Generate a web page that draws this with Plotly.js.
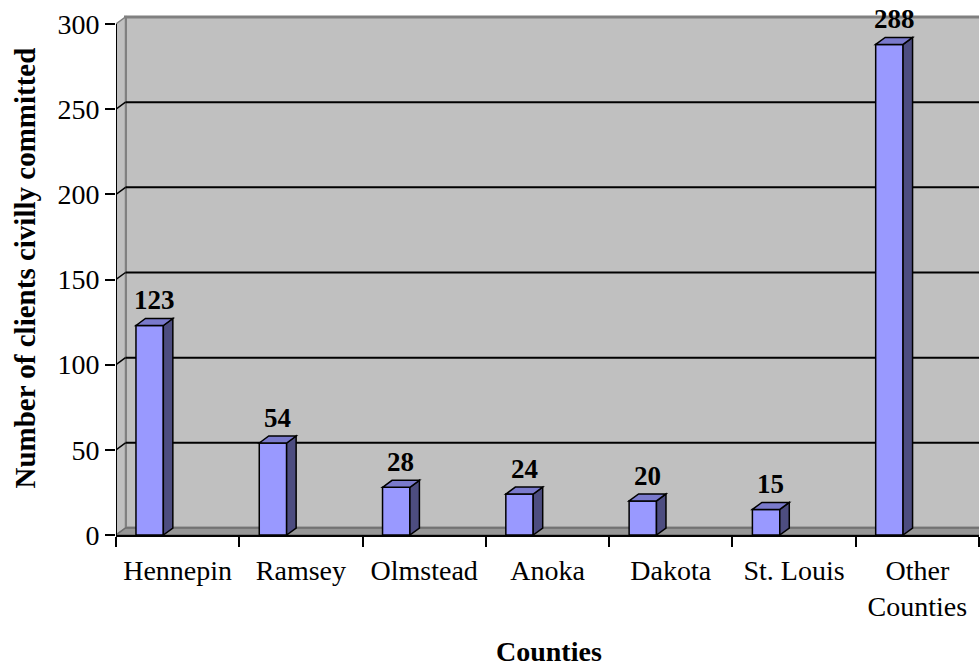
<!DOCTYPE html>
<html>
<head>
<meta charset="utf-8">
<script src="https://cdn.plot.ly/plotly-3.0.1.min.js"></script>
<style>
html,body{margin:0;padding:0;background:#fff;}
#chart{width:980px;height:669px;}
</style>
</head>
<body>
<div id="chart"></div>
<script>
// ---- data ----
const categories = ["Hennepin", "Ramsey", "Olmstead", "Anoka", "Dakota", "St. Louis", "Other<br>Counties"];
const clients = [123, 54, 28, 24, 20, 15, 288];
const yTicks = [0, 50, 100, 150, 200, 250, 300];

// ---- geometry (in axis units) ----
const pxPerX = 863 / 7;            // x axis: 7 categories over 863 px
const pxPerY = 511 / 300;          // y axis: 300 units over 511 px
const dx = 9.5 / pxPerX;           // 3-D depth offset, horizontal
const dy = 7 / pxPerY;             // 3-D depth offset, vertical
const barLeft = 0.162, barW = 0.222;
const yTop = 525 / pxPerY;

const idx = categories.map((c, i) => i);
const centers = idx.map(i => i + barLeft + barW / 2);

const serif = "Liberation Serif, Times New Roman, serif";

const shapes = [];
// back wall
shapes.push({type: 'rect', xref: 'x', yref: 'y', x0: dx, x1: 7 + dx + 0.2, y0: dy, y1: 300 + dy,
  fillcolor: '#c0c0c0', line: {color: '#808080', width: 3}, layer: 'below'});
// left wall
shapes.push({type: 'path', xref: 'x', yref: 'y',
  path: `M0,0 L0,300 L${dx},${300 + dy} L${dx},${dy} Z`,
  fillcolor: '#c0c0c0', line: {color: '#808080', width: 1.5}, layer: 'below'});
// floor
shapes.push({type: 'path', xref: 'x', yref: 'y',
  path: `M0,0 L7,0 L${7 + dx},${dy} L${dx},${dy} Z`,
  fillcolor: '#969696', line: {color: '#6e6e6e', width: 1.5}, layer: 'below'});
// gridlines on back + left wall
yTicks.filter(v => v > 0 && v < 300).forEach(v => {
  shapes.push({type: 'line', xref: 'x', yref: 'y', x0: dx, x1: 7 + dx + 0.2, y0: v + dy, y1: v + dy,
    line: {color: '#000', width: 2}, layer: 'below'});
  shapes.push({type: 'line', xref: 'x', yref: 'y', x0: 0, x1: dx, y0: v, y1: v + dy,
    line: {color: '#000', width: 1.5}, layer: 'below'});
});
// y axis line (0..300)
shapes.push({type: 'line', xref: 'x', yref: 'y', x0: 0, x1: 0, y0: 0, y1: 300,
  line: {color: '#000', width: 2}, layer: 'above'});
// bar side + top faces
clients.forEach((v, i) => {
  const L = i + barLeft, R = L + barW;
  shapes.push({type: 'path', xref: 'x', yref: 'y',
    path: `M${R},0 L${R},${v} L${R + dx},${v + dy} L${R + dx},${dy} Z`,
    fillcolor: '#4d4d80', line: {color: '#000', width: 1.5}, layer: 'above'});
  shapes.push({type: 'path', xref: 'x', yref: 'y',
    path: `M${L},${v} L${L + dx},${v + dy} L${R + dx},${v + dy} L${R},${v} Z`,
    fillcolor: '#7a7acc', line: {color: '#000', width: 1.5}, layer: 'above'});
});

const annotations = clients.map((v, i) => ({
  xref: 'x', yref: 'y', x: centers[i] + dx / 2, y: v + dy, text: '<b>' + v + '</b>',
  showarrow: false, yanchor: 'bottom', yshift: 1,
  font: {family: serif, size: 27, color: '#000'}
}));
annotations.push({xref: 'paper', yref: 'paper', x: (24 - 116) / 863, y: (535 - 268.5) / 525,
  text: '<b>Number of clients civilly committed</b>', textangle: -90, showarrow: false,
  xanchor: 'center', yanchor: 'middle', font: {family: serif, size: 29, color: '#000'}});
annotations.push({xref: 'paper', yref: 'paper', x: (549 - 116) / 863, y: (535 - 651) / 525,
  text: '<b>Counties</b>', showarrow: false,
  xanchor: 'center', yanchor: 'middle', font: {family: serif, size: 28, color: '#000'}});

const trace = {
  type: 'bar', x: centers, y: clients, width: barW,
  marker: {color: '#9999ff', line: {color: '#000', width: 1.5}},
  hoverinfo: 'skip', cliponaxis: false
};
const ticksTrace = {type: 'scatter', x: [0], y: [0], xaxis: 'x2', mode: 'none', hoverinfo: 'skip', showlegend: false};

const layout = {
  width: 980, height: 669,
  margin: {l: 116, r: 1, t: 10, b: 134},
  paper_bgcolor: '#fff', plot_bgcolor: 'rgba(0,0,0,0)',
  showlegend: false,
  xaxis: {type: 'linear', range: [0, 7], tickvals: idx.map(i => i + 0.5), ticktext: categories,
    ticks: '', ticklabelstandoff: 16, showgrid: false, zeroline: false, showline: false, fixedrange: true,
    tickfont: {family: serif, size: 28, color: '#000'}},
  xaxis2: {type: 'linear', range: [0, 7], overlaying: 'x', side: 'bottom', anchor: 'y',
    tickvals: [0, 1, 2, 3, 4, 5, 6, 7], ticks: 'outside', ticklen: 10, tickwidth: 2, tickcolor: '#000',
    showticklabels: false, showgrid: false, zeroline: false, showline: true, linecolor: '#000', linewidth: 2},
  yaxis: {range: [0, yTop], tickvals: yTicks, ticks: 'outside', ticklen: 10, tickwidth: 2, tickcolor: '#000',
    showgrid: false, zeroline: false, showline: false,
    tickfont: {family: serif, size: 28, color: '#000'}},
  shapes: shapes,
  annotations: annotations
};

Plotly.newPlot('chart', [trace, ticksTrace], layout, {staticPlot: true, displayModeBar: false});
</script>
</body>
</html>
